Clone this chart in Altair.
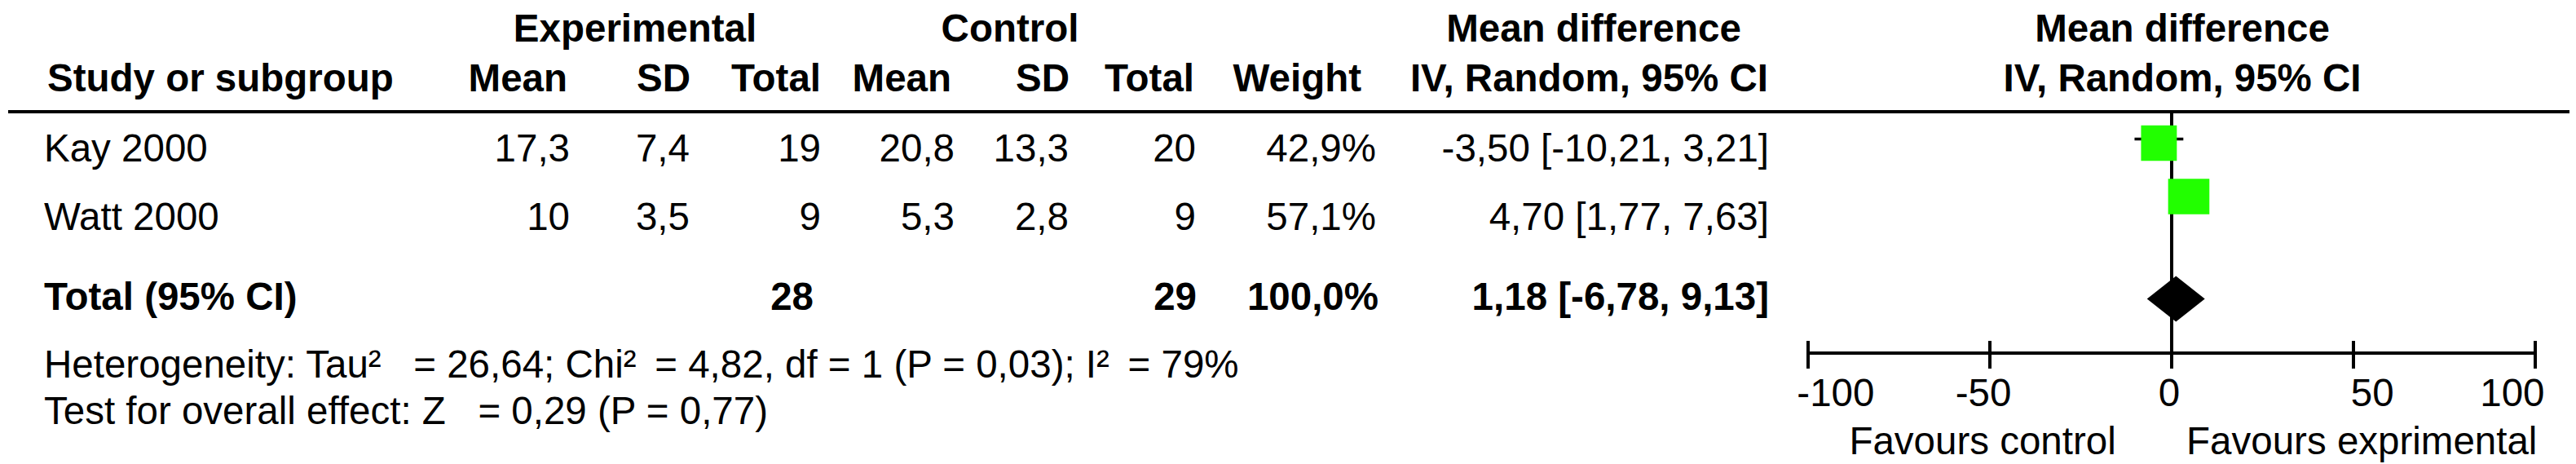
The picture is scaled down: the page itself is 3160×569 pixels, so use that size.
import math
import altair as alt
import pandas as pd

# ---------------- data ----------------
studies = ["Kay 2000", "Watt 2000"]
exp_mean = [17.3, 10]
exp_sd = [7.4, 3.5]
exp_total = [19, 9]
ctrl_mean = [20.8, 5.3]
ctrl_sd = [13.3, 2.8]
ctrl_total = [20, 9]
weights = [42.9, 57.1]
md = [-3.50, 4.70]
md_low = [-10.21, 1.77]
md_high = [3.21, 7.63]

total_label = "Total (95% CI)"
total_exp_n = 28
total_ctrl_n = 29
total_weight = 100.0
total_md = 1.18
total_low = -6.78
total_high = 9.13

group_headers = ["Experimental", "Control", "Mean difference"]
column_headers = ["Mean", "SD", "Total", "Mean", "SD", "Total", "Weight", "IV, Random, 95% CI"]
first_header = "Study or subgroup"
plot_headers = ["Mean difference", "IV, Random, 95% CI"]
axis_ticks = [-100, -50, 0, 50, 100]
null_effect = 0
favours = ["Favours control", "Favours exprimental"]
heterogeneity = ("Heterogeneity: Tau\u00b2\u00a0\u00a0\u00a0= 26,64; Chi\u00b2\u2009 = 4,82, "
                 "df = 1 (P = 0,03); I\u00b2\u2009 = 79%")
overall = "Test for overall effect: Z\u00a0\u00a0\u00a0= 0,29 (P = 0,77)"

# ---------------- layout (page pixels; chart starts at 8,8) ----------------
OFF = 8
W, H = 3160 - 2 * OFF, 569 - OFF
FONT = "Liberation Sans"
FS = 47.5


def p(v):
    return v - OFF


LEFT_X = 52
STUDY_HDR_X = 56
GROUP_CENTER_X = [777, 1237, 1953]
HDR_RIGHT_X = [694, 845, 1005, 1165, 1310, 1463, 1668, 2167]
DATA_RIGHT_X = [697, 844, 1005, 1169, 1309, 1465, 1686, 2168]
TOTAL_RIGHT_X = {2: 996, 5: 1466, 6: 1689, 7: 2168}
Y_GROUP = 51
Y_HDR = 112
Y_ROWS = [198, 282]
Y_TOTAL = 380
Y_HET = 463
Y_TEST = 520
Y_SEP = 137

PLOT_X0, PLOT_X1 = 2216, 3108
PLOT_HDR_X = 2675
SQ_Y = [175.5, 241]
SQ_HALF_H = 21.75
SQ_K = 0.751  # half-width (axis units) per sqrt(weight)
DIA_Y = 366.5
DIA_HALF_H = 28
ZERO_Y0, ZERO_Y1 = 135, 433
AXIS_Y = 433
TICK_Y0, TICK_Y1 = 418, 452
TICK_LABEL_Y = 498
TICK_LABEL_POS = [-92.4, -51.8, -0.7, 55.2, 93.7]  # label centres, axis units
FAV_Y = 557
FAV_X = [-52, 52.3]
GREEN = "#22ff00"


def fmt(v, nd=None):
    s = f"{v:g}" if nd is None else f"{v:.{nd}f}"
    return s.replace(".", ",")


# ---------------- build text tables ----------------
bold_center, bold_left, bold_right, norm_left, norm_right = [], [], [], [], []

for t, x in zip(group_headers, GROUP_CENTER_X):
    bold_center.append({"text": t, "x": p(x), "y": p(Y_GROUP)})
bold_center.append({"text": plot_headers[0], "x": p(PLOT_HDR_X), "y": p(Y_GROUP)})
bold_center.append({"text": plot_headers[1], "x": p(PLOT_HDR_X), "y": p(Y_HDR)})

bold_left.append({"text": first_header, "x": p(STUDY_HDR_X), "y": p(Y_HDR)})
for t, x in zip(column_headers, HDR_RIGHT_X):
    bold_right.append({"text": t, "x": p(x), "y": p(Y_HDR)})

for i, s in enumerate(studies):
    y = p(Y_ROWS[i])
    norm_left.append({"text": s, "x": p(LEFT_X), "y": y})
    cells = [
        fmt(exp_mean[i]), fmt(exp_sd[i]), str(exp_total[i]),
        fmt(ctrl_mean[i]), fmt(ctrl_sd[i]), str(ctrl_total[i]),
        fmt(weights[i], 1) + "%",
        f"{fmt(md[i], 2)} [{fmt(md_low[i], 2)}, {fmt(md_high[i], 2)}]",
    ]
    for c, x in zip(cells, DATA_RIGHT_X):
        norm_right.append({"text": c, "x": p(x), "y": y})

bold_left.append({"text": total_label, "x": p(LEFT_X), "y": p(Y_TOTAL)})
tot_cells = {
    2: str(total_exp_n),
    5: str(total_ctrl_n),
    6: fmt(total_weight, 1) + "%",
    7: f"{fmt(total_md, 2)} [{fmt(total_low, 2)}, {fmt(total_high, 2)}]",
}
for k, c in tot_cells.items():
    bold_right.append({"text": c, "x": p(TOTAL_RIGHT_X[k]), "y": p(Y_TOTAL)})

norm_left.append({"text": heterogeneity, "x": p(LEFT_X), "y": p(Y_HET)})
norm_left.append({"text": overall, "x": p(LEFT_X), "y": p(Y_TEST)})

PX = alt.X("x:Q", scale=None, axis=None)
PY = alt.Y("y:Q", scale=None, axis=None)


def text_layer(rows, align, weight):
    return alt.Chart(pd.DataFrame(rows)).mark_text(
        align=align, baseline="alphabetic", font=FONT, fontSize=FS,
        fontWeight=weight, color="black"
    ).encode(x=PX, y=PY, text="text:N")


layers = [
    text_layer(bold_center, "center", "bold"),
    text_layer(bold_left, "left", "bold"),
    text_layer(bold_right, "right", "bold"),
    text_layer(norm_left, "left", "normal"),
    text_layer(norm_right, "right", "normal"),
]

# separator under header
layers.append(
    alt.Chart(pd.DataFrame({"a": [0]})).mark_rule(color="black", strokeWidth=4).encode(
        x=alt.value(0), x2=alt.value(W), y=alt.value(p(Y_SEP))
    )
)

# ---------------- forest plot ----------------
FXS = alt.Scale(domain=[min(axis_ticks), max(axis_ticks)], range=[p(PLOT_X0), p(PLOT_X1)],
                nice=False, zero=False)

# line of no effect
layers.append(
    alt.Chart(pd.DataFrame({"v": [null_effect]})).mark_rule(color="black", strokeWidth=4).encode(
        x=alt.X("v:Q", scale=FXS, axis=None), y=alt.value(p(ZERO_Y0)), y2=alt.value(p(ZERO_Y1))
    )
)

# axis line
layers.append(
    alt.Chart(pd.DataFrame({"lo": [min(axis_ticks)], "hi": [max(axis_ticks)]})).mark_rule(
        color="black", strokeWidth=4
    ).encode(x=alt.X("lo:Q", scale=FXS, axis=None), x2="hi:Q", y=alt.value(p(AXIS_Y)))
)

tick_df = pd.DataFrame({
    "t": axis_ticks,
    "pos": TICK_LABEL_POS,
    "label": [str(t) for t in axis_ticks],
})
layers.append(
    alt.Chart(tick_df).mark_rule(color="black", strokeWidth=4).encode(
        x=alt.X("t:Q", scale=FXS, axis=None), y=alt.value(p(TICK_Y0)), y2=alt.value(p(TICK_Y1))
    )
)
layers.append(
    alt.Chart(tick_df).mark_text(
        align="center", baseline="alphabetic", font=FONT, fontSize=FS, color="black"
    ).encode(x=alt.X("pos:Q", scale=FXS, axis=None), y=alt.value(p(TICK_LABEL_Y)), text="label:N")
)
layers.append(
    alt.Chart(pd.DataFrame({"f": FAV_X, "label": favours})).mark_text(
        align="center", baseline="alphabetic", font=FONT, fontSize=FS, color="black"
    ).encode(x=alt.X("f:Q", scale=FXS, axis=None), y=alt.value(p(FAV_Y)), text="label:N")
)

# study CIs and boxes
st = pd.DataFrame({
    "study": studies, "md": md, "lo": md_low, "hi": md_high, "w": weights,
    "yc": [p(v) for v in SQ_Y],
})
st["bx0"] = [m - SQ_K * math.sqrt(w) for m, w in zip(md, weights)]
st["bx1"] = [m + SQ_K * math.sqrt(w) for m, w in zip(md, weights)]
st["by0"] = st["yc"] - SQ_HALF_H
st["by1"] = st["yc"] + SQ_HALF_H
st["wy"] = st["yc"] - 5

layers.append(
    alt.Chart(st).mark_rule(color="black", strokeWidth=3.5).encode(
        x=alt.X("lo:Q", scale=FXS, axis=None), x2="hi:Q", y=alt.Y("wy:Q", scale=None, axis=None)
    )
)
layers.append(
    alt.Chart(st).mark_rect(color=GREEN, opacity=1).encode(
        x=alt.X("bx0:Q", scale=FXS, axis=None), x2="bx1:Q",
        y=alt.Y("by0:Q", scale=None, axis=None), y2="by1:Q"
    )
)

# pooled diamond
dia = pd.DataFrame({
    "x": [total_low, total_md, total_high],
    "y": [p(DIA_Y), p(DIA_Y) - DIA_HALF_H, p(DIA_Y)],
    "y2": [p(DIA_Y), p(DIA_Y) + DIA_HALF_H, p(DIA_Y)],
})
layers.append(
    alt.Chart(dia).mark_area(color="black", orient="vertical", interpolate="linear", opacity=1).encode(
        x=alt.X("x:Q", scale=FXS, axis=None), y=alt.Y("y:Q", scale=None, axis=None), y2="y2:Q"
    )
)

chart = alt.layer(*layers).resolve_scale(x="independent", y="independent").properties(
    width=W, height=H, padding=0,
    autosize=alt.AutoSizeParams(type="fit", contains="padding"),
    background="white",
).configure_view(strokeWidth=0)

chart.save("out.html", embed_options={"renderer": "svg", "actions": False})
